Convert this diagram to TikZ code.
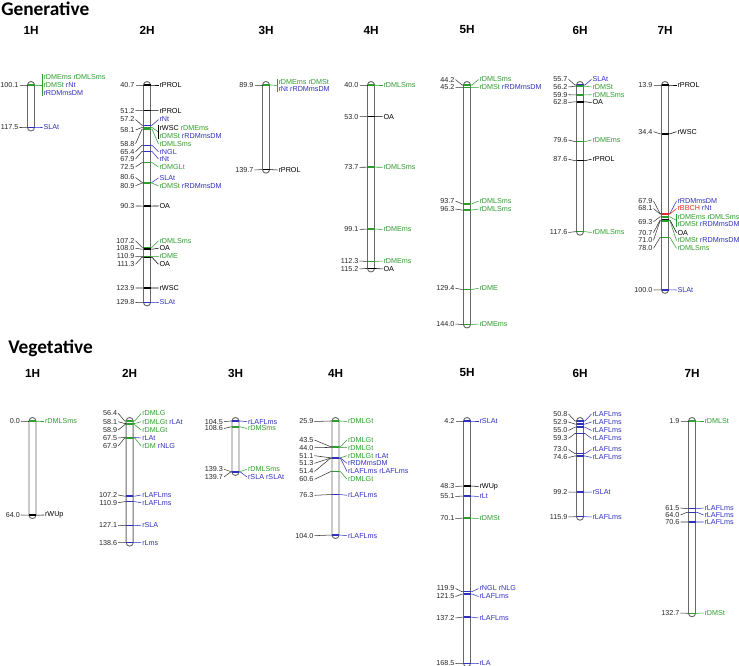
\documentclass[tikz,border=0pt]{standalone}
\usepackage{fontspec}
\setmainfont{Liberation Sans}
\newfontfamily\headfont{Carlito}
\usepackage{tikz}
\usetikzlibrary{positioning}
\definecolor{mgreen}{RGB}{45,158,45}
\definecolor{mblue}{RGB}{48,48,190}
\definecolor{mred}{RGB}{235,40,40}
\definecolor{bargray}{RGB}{105,105,105}

% chromosome: name, x, first cM, last cM, px per cM, title
\newcommand{\chrom}[6]{%
  \def\cx{#2}\def\cz{#3}\def\kk{#5}%
  \pgfmathsetmacro\ybot{\ytop+(#4-#3)*#5}%
  \node[chrname] (#1) at (#2,\namey) {#6};
  \draw[chrbar] (#2-3.5,\ytop-3.5) rectangle (#2+3.5,\ybot+3.5);
}
% locus: name, cM, number y, label y, colour, label
\newcommand{\locus}[6]{%
  \pgfmathsetmacro\yb{\ytop+(#2-\cz)*\kk}%
  \draw[locline, #5] (\cx-3.5,\yb) -- (\cx+3.5,\yb);
  \node[numlbl, anchor=east] (#1-n) at (\cx-\numgap,#3) {#2};
  \draw[leader] (#1-n.east) -- (\cx-5,\yb) -- (\cx-3.5,\yb);
  \node[lbl, anchor=west, text=#5] (#1-l) at (\cx+11.5,#4) {#6};
  \draw[leader, #5] (\cx+3.5,\yb) -- (\cx+5,\yb) -- (#1-l.west);
}
\newcommand{\bracket}[2]{%
  \draw[leader, #2] ([yshift=-0.6pt]#1-l.north west) -- ([yshift=0.6pt]#1-l.south west);
}

\begin{document}
\begin{tikzpicture}[
    x=0.75pt, y=-0.75pt,
    chrbar/.style={draw=bargray, line width=0.7pt, fill=white, rounded corners=2.6pt},
    locline/.style={line width=1.1pt},
    leader/.style={line width=0.4pt, black!80},
    numlbl/.style={font=\fontsize{5.4}{5.8}\selectfont, text=black!85, inner sep=0.6pt},
    lbl/.style={font=\fontsize{5.4}{5.8}\selectfont, align=left, inner sep=0.6pt},
    chrname/.style={font=\bfseries\fontsize{8.8}{10}\selectfont},
    rowtitle/.style={font=\headfont\bfseries\fontsize{14.5}{16}\selectfont, anchor=west, inner sep=0pt},
  ]
  \useasboundingbox (0,0) rectangle (739,666);
  \def\numgap{11.5}

  % Generative
  \node[rowtitle] (gen) at (1,9) {Generative};
  \def\ytop{85}\def\namey{30}

  \chrom{g1h}{31}{100.1}{117.5}{2.44}{1H}
  \locus{g1a}{100.1}{85}{85}{mgreen}{rDMEms rDMLSms\\rDMSt \textcolor{mblue}{rNt}\\\textcolor{mblue}{rRDMmsDM}}
  \bracket{g1a}{mgreen}
  \locus{g1b}{117.5}{127.5}{127.5}{mblue}{SLAt}

  \chrom{g2h}{147}{40.7}{129.8}{2.44}{2H}
  \locus{g2a}{40.7}{85}{85}{black}{rPROL}
  \locus{g2b}{51.2}{110.7}{110.7}{black}{rPROL}
  \locus{g2c}{57.2}{119.5}{119.5}{mblue}{rNt}
  \locus{g2d}{58.1}{130}{132}{mgreen}{\textcolor{black}{rWSC} rDMEms\\rDMSt \textcolor{mblue}{rRDMmsDM}}
  \bracket{g2d}{black}
  \locus{g2e}{58.8}{144}{144}{mgreen}{rDMLSms}
  \locus{g2f}{65.4}{151.7}{151.7}{mblue}{rNGL}
  \locus{g2g}{67.9}{159}{159}{mblue}{rNt}
  \locus{g2h}{72.5}{167}{167}{mgreen}{rDMGLt}
  \locus{g2i}{80.6}{177.5}{178}{mblue}{SLAt}
  \locus{g2j}{80.9}{185.7}{186}{mgreen}{rDMSt \textcolor{mblue}{rRDMmsDM}}
  \locus{g2k}{90.3}{206}{206}{black}{OA}
  \locus{g2l}{107.2}{240.7}{240.7}{mgreen}{rDMLSms}
  \locus{g2m}{108.0}{248.3}{248.3}{black}{OA}
  \locus{g2n}{110.9}{256.5}{256.5}{mgreen}{rDME}
  \locus{g2o}{111.3}{264.3}{264.3}{black}{OA}
  \locus{g2p}{123.9}{288}{288}{black}{rWSC}
  \locus{g2q}{129.8}{302.5}{302.5}{mblue}{SLAt}

  \chrom{g3h}{266}{89.9}{139.7}{1.7}{3H}
  \locus{g3a}{89.9}{85}{85.5}{mgreen}{rDMEms rDMSt\\\textcolor{mblue}{rNt rRDMmsDM}}
  \bracket{g3a}{mgreen}
  \locus{g3b}{139.7}{170}{170}{black}{rPROL}

  \chrom{g4h}{371}{40.0}{115.2}{2.44}{4H}
  \locus{g4a}{40.0}{85}{85}{mgreen}{rDMLSms}
  \locus{g4b}{53.0}{116.7}{116.7}{black}{OA}
  \locus{g4c}{73.7}{167.3}{167.3}{mgreen}{rDMLSms}
  \locus{g4d}{99.1}{229.3}{229.3}{mgreen}{rDMEms}
  \locus{g4e}{112.3}{261}{261}{mgreen}{rDMEms}
  \locus{g4f}{115.2}{269}{269}{black}{OA}

  \chrom{g5h}{467}{44.2}{144.0}{2.4}{5H}
  \locus{g5a}{44.2}{79.5}{79.5}{mgreen}{rDMLSms}
  \locus{g5b}{45.2}{87.3}{87.3}{mgreen}{rDMSt \textcolor{mblue}{rRDMmsDM}}
  \locus{g5c}{93.7}{201}{201}{mgreen}{rDMLSms}
  \locus{g5d}{96.3}{209}{209}{mgreen}{rDMLSms}
  \locus{g5e}{129.4}{288.3}{288.3}{mgreen}{rDME}
  \locus{g5f}{144.0}{324}{324}{mgreen}{rDMEms}

  \chrom{g6h}{580}{55.7}{117.6}{2.37}{6H}
  \locus{g6a}{55.7}{79.3}{79.3}{mblue}{SLAt}
  \locus{g6b}{56.2}{87}{87}{mgreen}{rDMSt}
  \locus{g6c}{59.9}{94.7}{94.7}{mgreen}{rDMLSms}
  \locus{g6d}{62.8}{102.5}{102.5}{black}{OA}
  \locus{g6e}{79.6}{140}{140}{mgreen}{rDMEms}
  \locus{g6f}{87.6}{159.3}{159.3}{black}{rPROL}
  \locus{g6g}{117.6}{232.5}{232.5}{mgreen}{rDMLSms}

  \chrom{g7h}{665}{13.9}{100.0}{2.38}{7H}
  \locus{g7a}{13.9}{85}{85}{black}{rPROL}
  \locus{g7b}{34.4}{131.7}{131.7}{black}{rWSC}
  \locus{g7c}{67.9}{201}{201}{mblue}{rRDMmsDM}
  \locus{g7d}{68.1}{208.5}{208.5}{mred}{rBBCH \textcolor{mblue}{rNt}}
  \locus{g7e}{69.3}{221.7}{220.5}{mgreen}{rDMEms rDMLSms\\rDMSt \textcolor{mblue}{rRDMmsDM}}
  \bracket{g7e}{mgreen}
  \locus{g7f}{70.7}{232.7}{232.7}{black}{OA}
  \locus{g7g}{71.0}{240.3}{240.5}{mgreen}{rDMSt \textcolor{mblue}{rRDMmsDM}}
  \locus{g7h}{78.0}{248.3}{248.3}{mgreen}{rDMLSms}
  \locus{g7i}{100.0}{290}{290}{mblue}{SLAt}

  % Vegetative
  \node[rowtitle] (veg) at (8,348) {Vegetative};
  \def\ytop{421}\def\namey{373}

  \chrom{v1h}{32.5}{0.0}{64.0}{1.47}{1H}
  \locus{v1a}{0.0}{421}{421}{mgreen}{rDMLSms}
  \locus{v1b}{64.0}{515}{515}{black}{rWUp}

  \chrom{v2h}{129.7}{56.4}{138.6}{1.48}{2H}
  \locus{v2a}{56.4}{413.3}{413.3}{mgreen}{rDMLG}
  \locus{v2b}{58.1}{421.7}{421.7}{mgreen}{rDMLGt \textcolor{mblue}{rLAt}}
  \locus{v2c}{58.9}{430}{430}{mgreen}{rDMLGt}
  \locus{v2d}{67.5}{438}{438}{mblue}{rLAt}
  \locus{v2e}{67.9}{446}{446}{mgreen}{rDM \textcolor{mblue}{rNLG}}
  \locus{v2f}{107.2}{495}{495}{mblue}{rLAFLms}
  \locus{v2g}{110.9}{502.7}{502.7}{mblue}{rLAFLms}
  \locus{v2h}{127.1}{525.3}{525.3}{mblue}{rSLA}
  \locus{v2i}{138.6}{542.7}{542.7}{mblue}{rLms}

  \chrom{v3h}{235.5}{104.5}{139.7}{1.45}{3H}
  \locus{v3a}{104.5}{421.7}{421.7}{mblue}{rLAFLms}
  \locus{v3b}{108.6}{428.5}{428.5}{mgreen}{rDMSms}
  \locus{v3c}{139.3}{469.3}{469.3}{mgreen}{rDMLSms}
  \locus{v3d}{139.7}{477}{477}{mblue}{rSLA rSLAt}

  \def\numgap{21}
  \chrom{v4h}{335.5}{25.9}{104.0}{1.46}{4H}
  \locus{v4a}{25.9}{421.5}{421.5}{mgreen}{rDMLGt}
  \locus{v4b}{43.5}{440}{440}{mgreen}{rDMLGt}
  \locus{v4c}{44.0}{447.7}{447.7}{mgreen}{rDMLGt}
  \locus{v4d}{51.1}{455.7}{455.7}{mgreen}{rDMLGt \textcolor{mblue}{rLAt}}
  \locus{v4e}{51.3}{463.3}{463.3}{mblue}{rRDMmsDM}
  \locus{v4f}{51.4}{471.5}{471.5}{mblue}{rLAFLms rLAFLms}
  \locus{v4g}{60.6}{479.3}{479.3}{mgreen}{rDMLGt}
  \locus{v4h}{76.3}{495.3}{495.3}{mblue}{rLAFLms}
  \locus{v4i}{104.0}{535.7}{535.7}{mblue}{rLAFLms}
  \def\numgap{11.5}

  \chrom{v5h}{467}{4.2}{168.5}{1.475}{5H}
  \locus{v5a}{4.2}{421}{421}{mblue}{rSLAt}
  \locus{v5b}{48.3}{486.5}{486.5}{black}{rWUp}
  \locus{v5c}{55.1}{496.5}{496.5}{mblue}{rLt}
  \locus{v5d}{70.1}{518.5}{518.5}{mgreen}{rDMSt}
  \locus{v5e}{119.9}{588.5}{588.5}{mblue}{rNGL rNLG}
  \locus{v5f}{121.5}{596.5}{596.5}{mblue}{rLAFLms}
  \locus{v5g}{137.2}{618}{618}{mblue}{rLAFLms}
  \locus{v5h}{168.5}{663.5}{663.5}{mblue}{rLA}

  \chrom{v6h}{580}{50.8}{115.9}{1.47}{6H}
  \locus{v6a}{50.8}{414}{414}{mblue}{rLAFLms}
  \locus{v6b}{52.9}{422}{422}{mblue}{rLAFLms}
  \locus{v6c}{55.0}{430.5}{430.5}{mblue}{rLAFLms}
  \locus{v6d}{59.3}{438.5}{438.5}{mblue}{rLAFLms}
  \locus{v6e}{73.0}{449.5}{449.5}{mblue}{rLAFLms}
  \locus{v6f}{74.6}{457.5}{457.5}{mblue}{rLAFLms}
  \locus{v6g}{99.2}{492}{492}{mblue}{rSLAt}
  \locus{v6h}{115.9}{517}{517}{mblue}{rLAFLms}

  \chrom{v7h}{692}{1.9}{132.7}{1.47}{7H}
  \locus{v7a}{1.9}{421}{421}{mgreen}{rDMLSt}
  \locus{v7b}{61.5}{508}{508}{mblue}{rLAFLms}
  \locus{v7c}{64.0}{515}{515}{mblue}{rLAFLms}
  \locus{v7d}{70.6}{522}{522}{mblue}{rLAFLms}
  \locus{v7e}{132.7}{613}{613}{mgreen}{rDMSt}
\end{tikzpicture}
\end{document}
